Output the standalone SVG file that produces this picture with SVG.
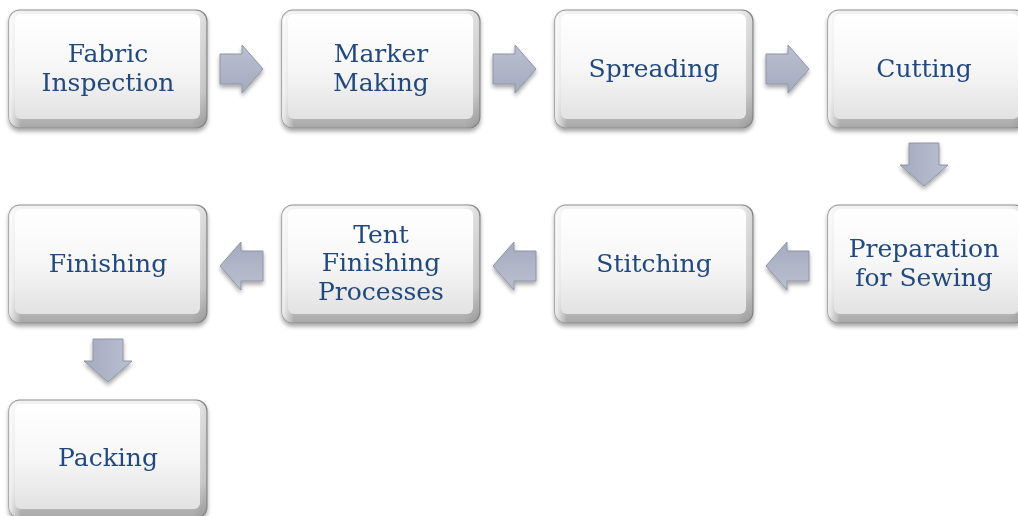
<svg xmlns="http://www.w3.org/2000/svg" width="1018" height="516" viewBox="0 0 1018 516">
<defs>
<linearGradient id="outer" x1="0" y1="0" x2="0" y2="1">
<stop offset="0" stop-color="#f2f2f2"/>
<stop offset="0.7" stop-color="#d6d6d6"/>
<stop offset="1" stop-color="#a8a8a8"/>
</linearGradient>
<linearGradient id="outerH" x1="0" y1="0" x2="1" y2="0">
<stop offset="0" stop-color="#ffffff" stop-opacity="0.8"/>
<stop offset="0.06" stop-color="#ffffff" stop-opacity="0"/>
<stop offset="0.92" stop-color="#000000" stop-opacity="0"/>
<stop offset="1" stop-color="#000000" stop-opacity="0.1"/>
</linearGradient>
<linearGradient id="inner" x1="0" y1="0" x2="0" y2="1">
<stop offset="0" stop-color="#ffffff"/>
<stop offset="0.5" stop-color="#f7f7f7"/>
<stop offset="1" stop-color="#e2e2e2"/>
</linearGradient>
<linearGradient id="arr" x1="0" y1="0" x2="0" y2="1">
<stop offset="0" stop-color="#bac0d1"/>
<stop offset="1" stop-color="#a4abbe"/>
</linearGradient>
<filter id="sh" x="-10%" y="-10%" width="120%" height="130%">
<feGaussianBlur in="SourceAlpha" stdDeviation="2"/>
<feOffset dx="0" dy="3" result="b"/>
<feComponentTransfer><feFuncA type="linear" slope="0.35"/></feComponentTransfer>
<feMerge><feMergeNode/><feMergeNode in="SourceGraphic"/></feMerge>
</filter>
<g id="box">
<rect x="0" y="0" width="198" height="118" rx="11" fill="url(#outer)" stroke="#8c8c8c" stroke-width="1.2"/>
<rect x="0" y="0" width="198" height="118" rx="11" fill="url(#outerH)"/>
<rect x="6" y="4" width="185" height="105" rx="6" fill="url(#inner)"/>
</g>
<path id="ra" d="M0,9 H22 V0 L43,24 L22,48 V39 H0 Z" fill="url(#arr)" stroke="#8e94a6" stroke-width="1"/>
</defs>
<style>
text{font-family:"DejaVu Serif","Liberation Serif",serif;font-size:25px;fill:#234a7d;text-anchor:middle}
</style>
<g id="connectors" filter="url(#sh)">
<use href="#ra" x="220" y="45"/>
<use href="#ra" x="493" y="45"/>
<use href="#ra" x="766" y="45"/>
<use href="#ra" transform="translate(948,143) rotate(90)"/>
<use href="#ra" transform="translate(809,290) rotate(180)"/>
<use href="#ra" transform="translate(536,290) rotate(180)"/>
<use href="#ra" transform="translate(263,290) rotate(180)"/>
<use href="#ra" transform="translate(132,339) rotate(90)"/>
</g>
<g id="n1" filter="url(#sh)"><use href="#box" x="9" y="10"/><text x="108" y="62">Fabric</text><text x="108" y="91">Inspection</text></g>
<g id="n2" filter="url(#sh)"><use href="#box" x="282" y="10"/><text x="381" y="62">Marker</text><text x="381" y="91">Making</text></g>
<g id="n3" filter="url(#sh)"><use href="#box" x="555" y="10"/><text x="654" y="77">Spreading</text></g>
<g id="n4" filter="url(#sh)"><use href="#box" x="828" y="10"/><text x="924" y="77">Cutting</text></g>
<g id="n5" filter="url(#sh)"><use href="#box" x="828" y="205"/><text x="924" y="257">Preparation</text><text x="924" y="286">for Sewing</text></g>
<g id="n6" filter="url(#sh)"><use href="#box" x="555" y="205"/><text x="654" y="272">Stitching</text></g>
<g id="n7" filter="url(#sh)"><use href="#box" x="282" y="205"/><text x="381" y="243">Tent</text><text x="381" y="271">Finishing</text><text x="381" y="300">Processes</text></g>
<g id="n8" filter="url(#sh)"><use href="#box" x="9" y="205"/><text x="108" y="272">Finishing</text></g>
<g id="n9" filter="url(#sh)"><use href="#box" x="9" y="400"/><text x="108" y="466">Packing</text></g>
</svg>
